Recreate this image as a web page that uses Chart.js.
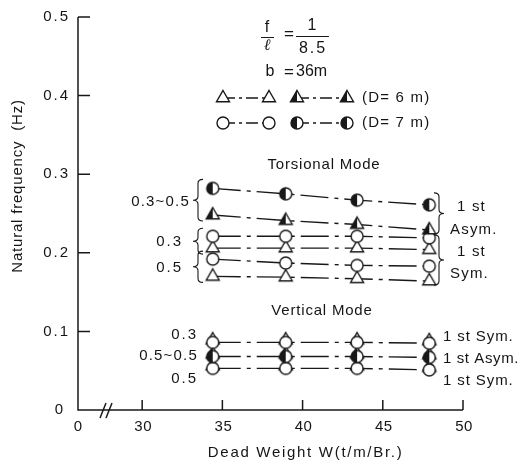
<!DOCTYPE html>
<html>
<head>
<meta charset="utf-8">
<script src="https://cdn.jsdelivr.net/npm/chart.js@4/dist/chart.umd.min.js"></script>
<style>
  html, body { margin: 0; padding: 0; background: #fff; }
</style>
</head>
<body>
<canvas id="freqChart" width="521" height="460"></canvas>
<script>
"use strict";

// dead weight W (t/m/Br.) at which each case was computed
const weights = [34.4, 38.95, 43.4, 47.9];

// torsional mode, 1st asymmetric (sag ratio 0.3~0.5)
const torAsymD7 = [0.282, 0.275, 0.267, 0.261];
const torAsymD6 = [0.248, 0.241, 0.236, 0.229];
// torsional mode, 1st symmetric
const torSym03D7 = [0.221, 0.221, 0.221, 0.219];
const torSym03D6 = [0.206, 0.206, 0.206, 0.204];
const torSym05D7 = [0.192, 0.187, 0.184, 0.183];
const torSym05D6 = [0.170, 0.169, 0.167, 0.164];

// vertical mode, D = 7 m (circles) and D = 6 m (triangles) nearly coincide
const vertSym03D7 = [0.086, 0.086, 0.086, 0.085];
const vertSym03D6 = [0.089, 0.089, 0.089, 0.088];
const vertAsymD7 = [0.068, 0.068, 0.068, 0.067];
const vertAsymD6 = [0.071, 0.071, 0.071, 0.070];
const vertSym05D7 = [0.053, 0.053, 0.053, 0.051];
const vertSym05D6 = [0.056, 0.056, 0.056, 0.054];

const xTicks = [30, 35, 40, 45, 50];
const yTicks = [0, 0.1, 0.2, 0.3, 0.4, 0.5];
const yTickLabels = ["0", "0.1", "0.2", "0.3", "0.4", "0.5"];

const INK = "#181818";
const FONT = '"Liberation Sans", Arial, sans-serif';
const DASH = [28, 6, 4, 6];

function drawMarker(ctx, kind, x, y) {
  ctx.save();
  ctx.lineWidth = 1.4;
  ctx.strokeStyle = INK;
  ctx.beginPath();
  let r;
  if (kind === "circ" || kind === "circHalf") {
    r = 6;
    ctx.arc(x, y, r, 0, Math.PI * 2);
  } else {
    r = 7.5;
    const s = Math.sin(Math.PI / 3) * r;
    ctx.moveTo(x, y - r);
    ctx.lineTo(x + s, y + r / 2);
    ctx.lineTo(x - s, y + r / 2);
    ctx.closePath();
  }
  ctx.fillStyle = "#fff";
  ctx.fill();
  if (kind.endsWith("Half")) {
    ctx.save();
    ctx.clip();
    ctx.fillStyle = INK;
    ctx.fillRect(x - r - 1, y - r - 1, r + 1, 2 * r + 2);
    ctx.restore();
  }
  ctx.stroke();
  ctx.restore();
}

function markerCanvas(kind) {
  const c = document.createElement("canvas");
  c.width = 20;
  c.height = 20;
  drawMarker(c.getContext("2d"), kind, 10, 10);
  return c;
}

const markers = {
  tri: markerCanvas("tri"),
  triHalf: markerCanvas("triHalf"),
  circ: markerCanvas("circ"),
  circHalf: markerCanvas("circHalf")
};

function series(values, kind, showLine) {
  return {
    data: weights.map((w, i) => ({ x: w, y: values[i] })),
    borderColor: INK,
    borderWidth: 1.4,
    borderDash: DASH,
    pointStyle: markers[kind],
    showLine: showLine !== false,
    tension: 0,
    fill: false
  };
}

function text(ctx, s, x, y, align, size, spacing) {
  ctx.font = size + "px " + FONT;
  ctx.letterSpacing = (spacing || 0) + "px";
  ctx.textAlign = align;
  ctx.textBaseline = "middle";
  ctx.fillText(s, x, y);
}

function brace(ctx, x, y1, y2, dir) {
  // dir = -1 draws "{", dir = 1 draws "}"
  const w = 5, r = 4, ym = (y1 + y2) / 2;
  ctx.beginPath();
  ctx.moveTo(x - dir * w, y1);
  ctx.quadraticCurveTo(x, y1, x, y1 + r);
  ctx.lineTo(x, ym - r);
  ctx.quadraticCurveTo(x, ym, x + dir * w, ym);
  ctx.quadraticCurveTo(x, ym, x, ym + r);
  ctx.lineTo(x, y2 - r);
  ctx.quadraticCurveTo(x, y2, x - dir * w, y2);
  ctx.stroke();
}

function legendRow(ctx, y, left, right, label) {
  ctx.save();
  ctx.strokeStyle = INK;
  ctx.lineWidth = 1.4;
  ctx.setLineDash([12, 4, 3, 4]);
  ctx.beginPath();
  ctx.moveTo(223, y); ctx.lineTo(269, y);
  ctx.moveTo(297, y); ctx.lineTo(347, y);
  ctx.stroke();
  ctx.restore();
  drawMarker(ctx, left, 223, y);
  drawMarker(ctx, left, 269, y);
  drawMarker(ctx, right, 297, y);
  drawMarker(ctx, right, 347, y);
  text(ctx, label, 362, y, "left", 15, 1.2);
}

const paperAxes = {
  id: "paperAxes",
  afterDraw(chart) {
    const ctx = chart.ctx;
    const xs = chart.scales.x, ys = chart.scales.y;
    const x0 = xs.left, y0 = ys.bottom;
    ctx.save();
    ctx.strokeStyle = INK;
    ctx.fillStyle = "#151515";
    ctx.lineWidth = 1.5;

    // axis lines with inward ticks
    ctx.beginPath();
    ctx.moveTo(x0, ys.getPixelForValue(0.5));
    ctx.lineTo(x0, y0);
    ctx.lineTo(xs.right, y0);
    yTicks.forEach(v => {
      if (v === 0) return;
      const py = ys.getPixelForValue(v);
      ctx.moveTo(x0, py);
      ctx.lineTo(x0 + 12, py);
    });
    xTicks.forEach(v => {
      const px = xs.getPixelForValue(v);
      ctx.moveTo(px, y0);
      ctx.lineTo(px, y0 - 10);
    });
    // axis break
    ctx.moveTo(100, y0 + 8); ctx.lineTo(106, y0 - 7);
    ctx.moveTo(106, y0 + 8); ctx.lineTo(112, y0 - 7);
    ctx.stroke();

    yTicks.forEach((v, i) => {
      const lx = v === 0 ? 65 : 70;
      text(ctx, yTickLabels[i], lx, ys.getPixelForValue(v), "right", 15, 2);
    });
    text(ctx, "0", x0, 427, "center", 15, 0);
    xTicks.forEach(v => text(ctx, String(v), xs.getPixelForValue(v) + 1, 427, "center", 15, 0.5));

    text(ctx, "Dead Weight W(t/m/Br.)", xs.getPixelForValue(40) + 3, 453, "center", 15, 1.7);
    ctx.save();
    ctx.translate(18, ys.getPixelForValue(0.285));
    ctx.rotate(-Math.PI / 2);
    text(ctx, "Natural frequency  (Hz)", 0, 0, "center", 15, 0.8);
    ctx.restore();

    // span / sag and deck width
    text(ctx, "f", 267, 28, "center", 16, 0);
    ctx.font = "italic 16px \"Liberation Serif\", serif";
    ctx.letterSpacing = "0px";
    ctx.textAlign = "center";
    ctx.fillText("\u2113", 267, 46);
    text(ctx, "=", 289, 34, "center", 17, 0);
    text(ctx, "1", 312, 26, "center", 16, 0);
    text(ctx, "8.5", 313, 49, "center", 16, 2);
    ctx.lineWidth = 1;
    ctx.beginPath();
    ctx.moveTo(261, 37.5); ctx.lineTo(274, 37.5);
    ctx.moveTo(296, 36.5); ctx.lineTo(329, 36.5);
    ctx.stroke();
    text(ctx, "b", 270, 72, "center", 16, 0);
    text(ctx, "=", 289, 72, "center", 17, 0);
    text(ctx, "36m", 296, 72, "left", 16, 0);

    legendRow(ctx, 98, "tri", "triHalf", "(D= 6 m)");
    legendRow(ctx, 123, "circ", "circHalf", "(D= 7 m)");

    text(ctx, "Torsional Mode", 324, 165, "center", 15, 0.8);
    text(ctx, "Vertical Mode", 322, 311, "center", 15, 0.8);

    // torsional groups
    ctx.lineWidth = 1.1;
    const py = v => ys.getPixelForValue(v);
    brace(ctx, 198, py(torAsymD7[0]) - 9, py(torAsymD6[0]) + 6, -1);
    brace(ctx, 198, py(torSym03D7[0]) - 8, py(torSym03D6[0]) + 6, -1);
    brace(ctx, 198, py(torSym05D7[0]) - 8, py(torSym05D6[0]) + 6, -1);
    text(ctx, "0.3~0.5", 190, (py(torAsymD7[0]) + py(torAsymD6[0])) / 2, "right", 15, 1.2);
    text(ctx, "0.3", 183, (py(torSym03D7[0]) + py(torSym03D6[0])) / 2, "right", 15, 2);
    text(ctx, "0.5", 183, (py(torSym05D7[0]) + py(torSym05D6[0])) / 2, "right", 15, 2);

    brace(ctx, 439, py(torAsymD7[3]) - 12, py(torAsymD6[3]) + 4, 1);
    brace(ctx, 439, py(torSym03D7[3]) - 3, py(torSym05D6[3]) + 4, 1);
    text(ctx, "1 st", 457, 207, "left", 15, 1.2);
    text(ctx, "Asym.", 450, 230, "left", 15, 1.2);
    text(ctx, "1 st", 457, 252, "left", 15, 1.2);
    text(ctx, "Sym.", 450, 274, "left", 15, 1.2);

    // vertical groups
    text(ctx, "0.3", 198, 335, "right", 15, 2);
    text(ctx, "0.5~0.5", 198, 356, "right", 15, 1.2);
    text(ctx, "0.5", 198, 379, "right", 15, 2);
    text(ctx, "1 st Sym.", 443, 337, "left", 15, 0.9);
    text(ctx, "1 st Asym.", 443, 359, "left", 15, 0.6);
    text(ctx, "1 st Sym.", 443, 381, "left", 15, 0.9);

    ctx.restore();
  }
};

new Chart(document.getElementById("freqChart"), {
  type: "line",
  data: {
    datasets: [
      series(torAsymD7, "circHalf"),
      series(torAsymD6, "triHalf"),
      series(torSym03D7, "circ"),
      series(torSym03D6, "tri"),
      series(torSym05D7, "circ"),
      series(torSym05D6, "tri"),
      series(vertSym03D7, "circ"),
      series(vertSym03D6, "tri", false),
      series(vertAsymD7, "circHalf"),
      series(vertAsymD6, "triHalf", false),
      series(vertSym05D7, "circ"),
      series(vertSym05D6, "tri", false)
    ]
  },
  options: {
    responsive: false,
    devicePixelRatio: 1,
    animation: false,
    layout: { padding: { left: 78, right: 58, top: 17, bottom: 50 } },
    scales: {
      x: { type: "linear", min: 26, max: 50, display: false },
      y: { min: 0, max: 0.5, display: false }
    },
    plugins: {
      legend: { display: false },
      tooltip: { enabled: false }
    }
  },
  plugins: [paperAxes]
});
</script>
</body>
</html>
